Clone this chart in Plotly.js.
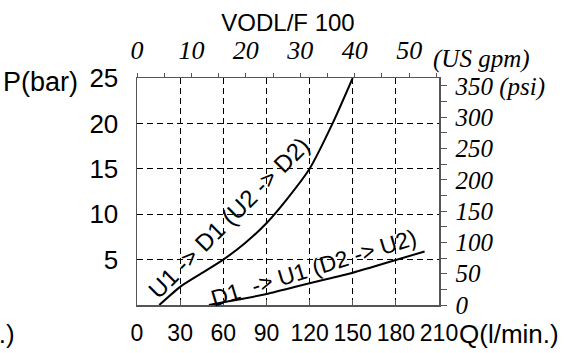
<!DOCTYPE html>
<html>
<head>
<meta charset="utf-8">
<script src="https://cdn.plot.ly/plotly-3.0.1.min.js"></script>
<style>html,body{margin:0;padding:0;background:#fff;}#chart{width:576px;height:353px;}</style>
</head>
<body>
<div id="chart"></div>
<script>
// Data
const flowLpm = [15.5, 30, 45, 60, 75, 90, 105, 120, 136, 150];          // U1 -> D1 curve, Q (l/min)
const pressureBar = [0, 2.0, 3.5, 5.0, 6.8, 9.0, 11.8, 15.0, 20.0, 25.0]; // bar
const flowLpm2 = [50, 60, 90, 120, 150, 180, 200];                         // D1 -> U1 curve, Q (l/min)
const pressureBar2 = [0, 0.3, 1.2, 2.4, 3.55, 4.95, 5.9];                  // bar

const xTicks = [0, 30, 60, 90, 120, 150, 180, 210];
const yTicks = [0, 5, 10, 15, 20, 25];
const yTickText = ["", "5", "10", "15", "20", "25"];
const gpmTicks = [0, 5, 10, 15, 20, 25, 30, 35, 40, 45, 50, 55];
const gpmText = ["0", "", "10", "", "20", "", "30", "", "40", "", "50", ""];
const psiTicks = [0, 25, 50, 75, 100, 125, 150, 175, 200, 225, 250, 275, 300, 325, 350];
const psiText = ["0", "", "50", "", "100", "", "150", "", "200", "", "250", "", "300", "", "350 (psi)"];

const LPM_PER_GPM = 3.785;
const PSI_PER_BAR = 14.5038;
const xMax = 210, yMax = 25;

const sans = "Liberation Sans, Arial, sans-serif";
const serif = "Liberation Serif, Times New Roman, serif";

const traces = [
  {x: flowLpm, y: pressureBar, mode: "lines", line: {color: "#000", width: 2, shape: "spline", smoothing: 0.6}, hoverinfo: "skip"},
  {x: flowLpm2, y: pressureBar2, mode: "lines", line: {color: "#000", width: 2, shape: "spline", smoothing: 0.6}, hoverinfo: "skip"},
  {x: [0], y: [0], xaxis: "x2", yaxis: "y2", mode: "markers", marker: {opacity: 0}, hoverinfo: "skip"}
];

const layout = {
  width: 576, height: 353,
  margin: {l: 137, r: 137, t: 78, b: 48, pad: 0},
  paper_bgcolor: "#fff", plot_bgcolor: "#fff",
  showlegend: false,
  title: {text: "VODL/F 100", x: 0.5, xanchor: "center", y: 0.935, yanchor: "middle", yref: "container",
          font: {family: sans, size: 24, color: "#000"}},
  xaxis: {
    range: [0, xMax], tickvals: xTicks, ticktext: xTicks.map(String), tickangle: 0,
    showgrid: true, gridcolor: "#000", griddash: "6px,4px", gridwidth: 1,
    zeroline: false, showline: true, linecolor: "#555", linewidth: 1.5, mirror: false,
    ticks: "inside", ticklen: 5, tickcolor: "#555",
    tickfont: {family: sans, size: 23, color: "#000"}, ticklabelstandoff: 7
  },
  yaxis: {
    range: [0, yMax], tickvals: yTicks, ticktext: yTickText,
    showgrid: true, gridcolor: "#000", griddash: "6px,4px", gridwidth: 1,
    zeroline: false, showline: true, linecolor: "#555", linewidth: 1.5,
    ticks: "", tickfont: {family: sans, size: 26, color: "#000"}, ticklabelstandoff: 12
  },
  xaxis2: {
    overlaying: "x", side: "top", anchor: "y2",
    range: [0, xMax / LPM_PER_GPM], tickvals: gpmTicks, ticktext: gpmText, tickangle: 0,
    showgrid: false, zeroline: false, showline: true, linecolor: "#555", linewidth: 1.5,
    ticks: "outside", ticklen: 4, tickcolor: "#555",
    tickfont: {family: serif, size: 26, color: "#000", style: "italic"}, ticklabelstandoff: 3
  },
  yaxis2: {
    overlaying: "y", side: "right", anchor: "x2",
    range: [0, yMax * PSI_PER_BAR], tickvals: psiTicks, ticktext: psiText,
    showgrid: false, zeroline: false, showline: true, linecolor: "#555", linewidth: 1.5,
    ticks: "outside", ticklen: 6, tickcolor: "#555",
    tickfont: {family: serif, size: 25, color: "#000", style: "italic"}, ticklabelstandoff: 4
  },
  annotations: [
    {text: "P(bar)", xref: "paper", yref: "paper", x: -0.45, y: 0.982, xanchor: "left", yanchor: "middle", showarrow: false,
     font: {family: sans, size: 27, color: "#000"}},
    {text: "Q(l/min.)", xref: "paper", yref: "paper", x: 1.058, y: -0.128, xanchor: "left", yanchor: "middle", showarrow: false,
     font: {family: sans, size: 26, color: "#000"}},
    {text: "Q(l/min.)", xref: "paper", yref: "paper", x: -0.397, y: -0.128, xanchor: "right", yanchor: "middle", showarrow: false,
     font: {family: sans, size: 26, color: "#000"}},
    {text: "(US gpm)", xref: "paper", yref: "paper", x: 0.975, y: 1.0837, xanchor: "left", yanchor: "middle", showarrow: false,
     font: {family: serif, size: 25, color: "#000", style: "italic"}},
    {text: "U1 -> D1 (U2 -> D2)", xref: "x", yref: "y", x: 64, y: 9.6, textangle: -45, showarrow: false,
     font: {family: sans, size: 24, color: "#000"}},
    {text: "D1  -> U1 (D2 -> U2)", xref: "x", yref: "y", x: 122.4, y: 4.1, textangle: -17, showarrow: false,
     font: {family: sans, size: 23, color: "#000"}}
  ]
};

Plotly.newPlot("chart", traces, layout, {displayModeBar: false, staticPlot: true});
</script>
</body>
</html>
